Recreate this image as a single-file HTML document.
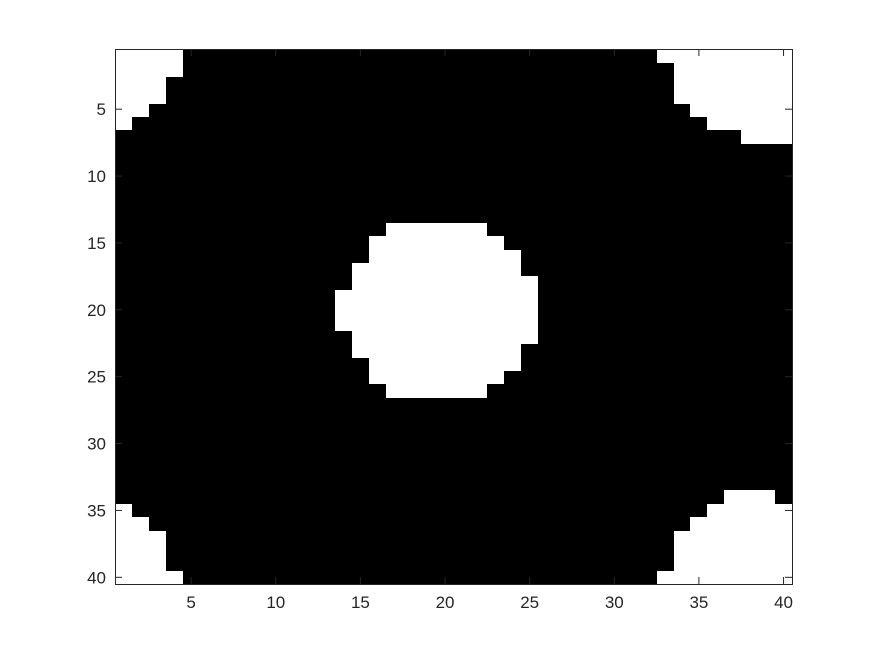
<!DOCTYPE html>
<html><head><meta charset="utf-8"><style>
body{margin:0;background:#fff;}
svg text{font-family:"Liberation Sans",sans-serif;font-size:17px;fill:#262626;}
rect{shape-rendering:crispEdges;}
</style></head><body>
<svg id="chart" width="875" height="656" xmlns="http://www.w3.org/2000/svg">
<rect width="875" height="656" fill="#fff"/>
<g id="plot"></g>
<g id="axes"></g>
</svg>
<script>
// white runs per row: [row, startCol, endCol]
const whiteRows = [1,2,3,4,5,6, 1,2,3,4,5,6,7, 14,15,16,17,18,19,20,21,22,23,24,25,26, 35,36,37,38,39,40, 34,35,36,37,38,39,40];
const whiteStart = [1,1,1,1,1,1, 33,34,34,34,35,36,38, 17,16,16,15,15,14,14,14,15,15,16,16,17, 1,1,1,1,1,1, 37,36,35,34,34,34,33];
const whiteEnd = [4,4,3,3,2,1, 40,40,40,40,40,40,40, 22,23,24,24,25,25,25,25,25,24,24,23,22, 1,2,3,3,3,4, 39,40,40,40,40,40,40];
const xTicks = [5,10,15,20,25,30,35,40];
const yTicks = [5,10,15,20,25,30,35,40];
const nRows = 40, nCols = 40;

const L=115,R=792,T=49,B=584;
const xs = v => L + (v-0.5)/nCols*(R-L);
const ys = v => T + (v-0.5)/nRows*(B-T);
const NS="http://www.w3.org/2000/svg";
const plot=document.getElementById('plot'), axes=document.getElementById('axes');
function mk(tag,attrs,parent){const e=document.createElementNS(NS,tag);for(const k in attrs)e.setAttribute(k,attrs[k]);parent.appendChild(e);return e;}

const bg=mk('rect',{x:L,y:T,width:R-L,height:B-T,fill:'#000'},plot);


for(let i=0;i<whiteRows.length;i++){
  const x0=Math.round(xs(whiteStart[i]-0.5)), x1=Math.round(xs(whiteEnd[i]+0.5));
  const y0=Math.round(ys(whiteRows[i]-0.5)), y1=Math.round(ys(whiteRows[i]+0.5));
  const r=mk('rect',{x:x0,y:y0,width:x1-x0,height:y1-y0+1,fill:'#fff'},plot);
  
  
}
const box=mk('rect',{x:L+0.5,y:T+0.5,width:R-L,height:B-T,fill:'none',stroke:'#262626','stroke-width':1},axes);


xTicks.forEach(v=>{
  const x=xs(v);
  mk('line',{x1:x,x2:x,y1:B,y2:B-7,stroke:'#262626'},axes);
  mk('line',{x1:x,x2:x,y1:T,y2:T+7,stroke:'#262626'},axes);
  const t=mk('text',{x:x,y:B+24,'text-anchor':'middle'},axes);t.textContent=v;
  
  
});
yTicks.forEach(v=>{
  const y=ys(v);
  mk('line',{x1:L,x2:L+7,y1:y,y2:y,stroke:'#262626'},axes);
  mk('line',{x1:R,x2:R-7,y1:y,y2:y,stroke:'#262626'},axes);
  const t=mk('text',{x:L-9,y:y+6,'text-anchor':'end'},axes);t.textContent=v;
  
  
});
</script>
</body></html>
